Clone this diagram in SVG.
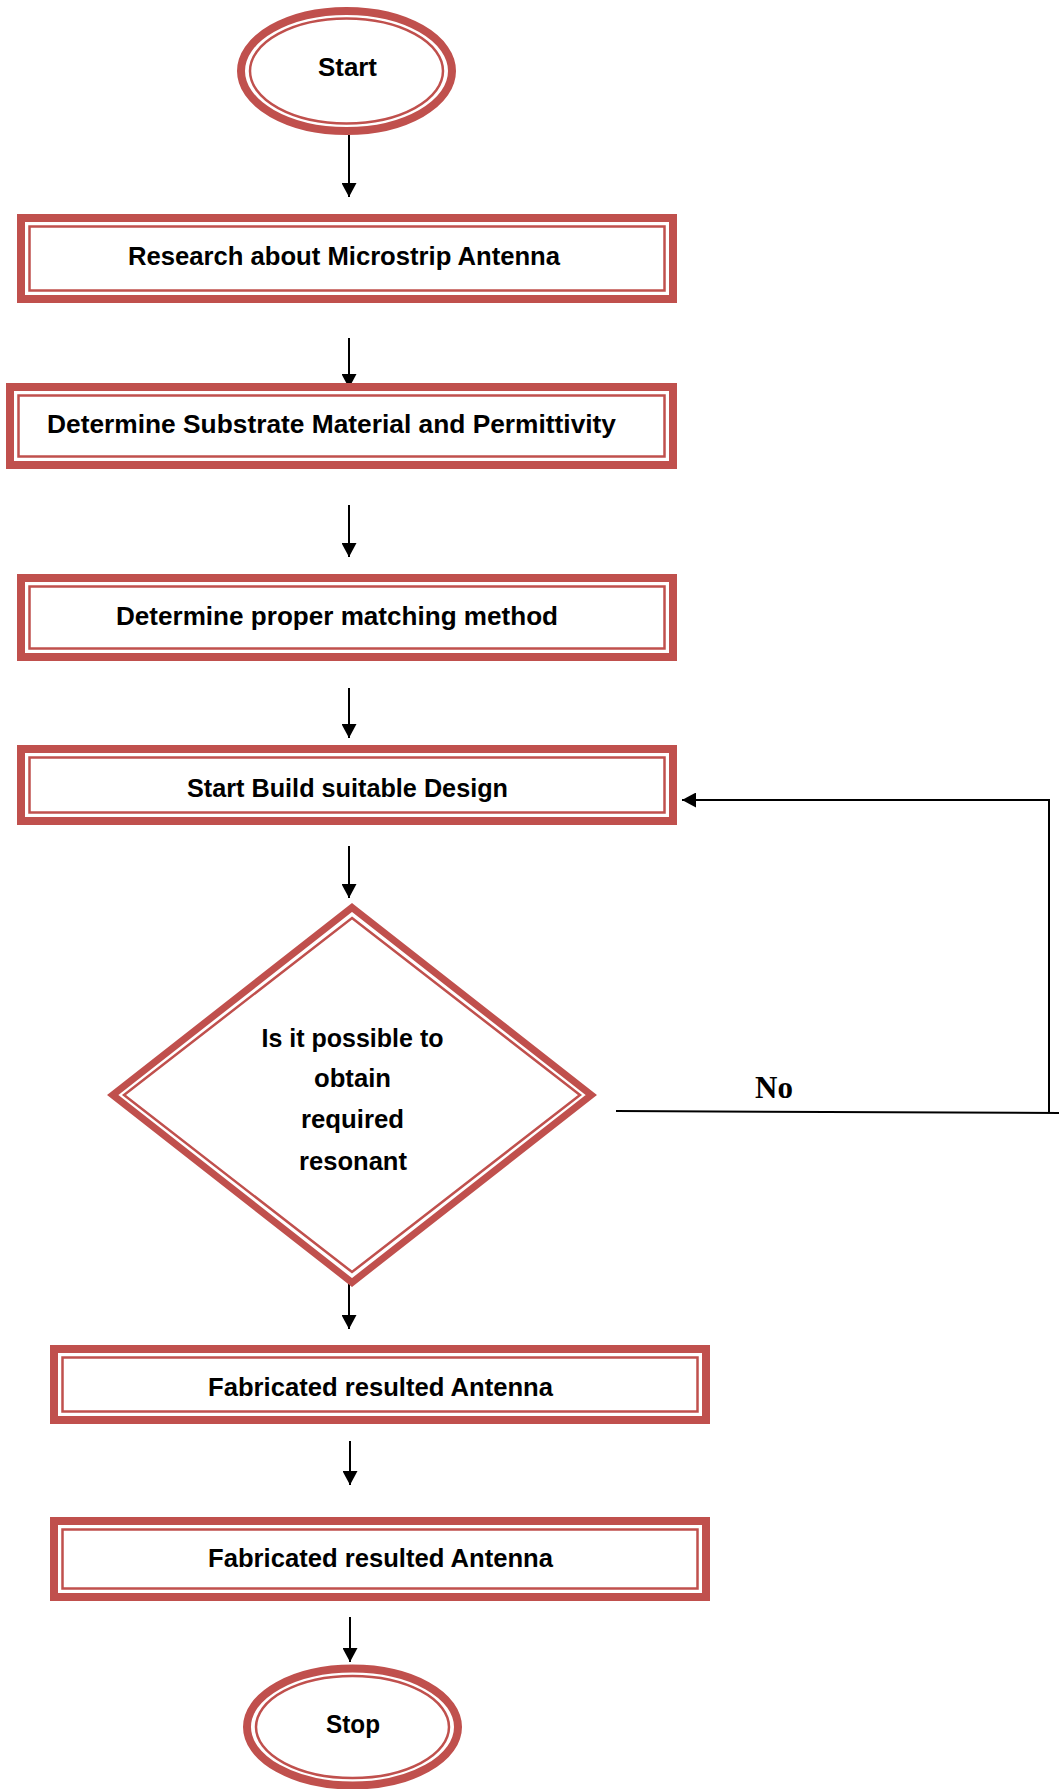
<svg xmlns="http://www.w3.org/2000/svg" width="1062" height="1789" viewBox="0 0 1062 1789">
<defs>
<style>
.thick{fill:#fff;stroke:#C0504D;stroke-width:8}
.thickd{fill:#fff;stroke:#C0504D;stroke-width:7;stroke-linejoin:miter;stroke-miterlimit:10}
.thin{fill:none;stroke:#C0504D;stroke-width:2.5}
.lbl{font-family:"Liberation Sans",Arial,sans-serif;font-weight:bold;font-size:25px;fill:#000;text-anchor:middle}
.no{font-family:"Liberation Serif","Times New Roman",serif;font-weight:bold;font-size:31px;fill:#000}
.conn{stroke:#000;stroke-width:2;fill:none}
</style>
<marker id="ah" viewBox="0 0 14 15" refX="14" refY="7.5" markerWidth="14" markerHeight="15" markerUnits="userSpaceOnUse" orient="auto">
<path d="M0,0 L14,7.5 L0,15 z" fill="#000"/>
</marker>
</defs>
<rect width="1062" height="1789" fill="#fff"/>

<g id="connectors">
<line class="conn" x1="349" y1="135" x2="349" y2="197" marker-end="url(#ah)"/>
<line class="conn" x1="349" y1="338" x2="349" y2="388" marker-end="url(#ah)"/>
<line class="conn" x1="349" y1="505" x2="349" y2="557" marker-end="url(#ah)"/>
<line class="conn" x1="349" y1="688" x2="349" y2="738" marker-end="url(#ah)"/>
<line class="conn" x1="349" y1="846" x2="349" y2="898" marker-end="url(#ah)"/>
<line class="conn" x1="349" y1="1282" x2="349" y2="1329" marker-end="url(#ah)"/>
<line class="conn" x1="350" y1="1441" x2="350" y2="1485" marker-end="url(#ah)"/>
<line class="conn" x1="350" y1="1617" x2="350" y2="1662" marker-end="url(#ah)"/>
<line class="conn" x1="616" y1="1111" x2="1059" y2="1113"/>
<polyline class="conn" points="1049,1113 1049,800 682,800" marker-end="url(#ah)"/>
<text class="no" x="755" y="1098">No</text>
</g>

<g id="start">
<ellipse class="thick" cx="346.5" cy="71" rx="105.5" ry="60"/>
<ellipse class="thin" cx="346.5" cy="71" rx="96.5" ry="52.5"/>
<text class="lbl" x="347.5" y="76" textLength="59" lengthAdjust="spacingAndGlyphs">Start</text>
</g>

<g id="research">
<rect class="thick" x="21" y="218" width="652" height="81"/>
<rect class="thin" x="29.5" y="226.5" width="635" height="64"/>
<text class="lbl" x="344" y="265" textLength="432" lengthAdjust="spacingAndGlyphs">Research about Microstrip Antenna</text>
</g>

<g id="substrate">
<rect class="thick" x="10" y="387" width="663" height="78"/>
<rect class="thin" x="18.5" y="395.5" width="646" height="61"/>
<text class="lbl" x="331.5" y="433" textLength="569" lengthAdjust="spacingAndGlyphs">Determine Substrate Material and Permittivity</text>
</g>

<g id="matching">
<rect class="thick" x="21" y="578" width="652" height="79"/>
<rect class="thin" x="29.5" y="586.5" width="635" height="62"/>
<text class="lbl" x="337" y="625" textLength="442" lengthAdjust="spacingAndGlyphs">Determine proper matching method</text>
</g>

<g id="build">
<rect class="thick" x="21" y="749" width="652" height="72"/>
<rect class="thin" x="29.5" y="757.5" width="635" height="55"/>
<text class="lbl" x="347.5" y="797" textLength="321" lengthAdjust="spacingAndGlyphs">Start Build suitable Design</text>
</g>

<g id="decision">
<polygon class="thickd" points="352,907.5 591.3,1095 352,1282.5 112.7,1095"/>
<polygon class="thin" points="352,918 580,1095 352,1272 124,1095"/>
<text class="lbl" x="352.5" y="1047" textLength="182" lengthAdjust="spacingAndGlyphs">Is it possible to</text>
<text class="lbl" x="352.5" y="1087" textLength="77" lengthAdjust="spacingAndGlyphs">obtain</text>
<text class="lbl" x="352.5" y="1128" textLength="103" lengthAdjust="spacingAndGlyphs">required</text>
<text class="lbl" x="353" y="1170" textLength="108" lengthAdjust="spacingAndGlyphs">resonant</text>
</g>

<g id="fabricated1">
<rect class="thick" x="54" y="1349" width="652" height="71"/>
<rect class="thin" x="62.5" y="1357.5" width="635" height="54"/>
<text class="lbl" x="380.5" y="1396" textLength="345" lengthAdjust="spacingAndGlyphs">Fabricated resulted Antenna</text>
</g>

<g id="fabricated2">
<rect class="thick" x="54" y="1521" width="652" height="76"/>
<rect class="thin" x="62.5" y="1529.5" width="635" height="59"/>
<text class="lbl" x="380.5" y="1567" textLength="345" lengthAdjust="spacingAndGlyphs">Fabricated resulted Antenna</text>
</g>

<g id="stop">
<ellipse class="thick" cx="352.5" cy="1727" rx="105.5" ry="58.5"/>
<ellipse class="thin" cx="352.5" cy="1727" rx="96.5" ry="51"/>
<text class="lbl" x="353" y="1733" textLength="54" lengthAdjust="spacingAndGlyphs">Stop</text>
</g>
</svg>
